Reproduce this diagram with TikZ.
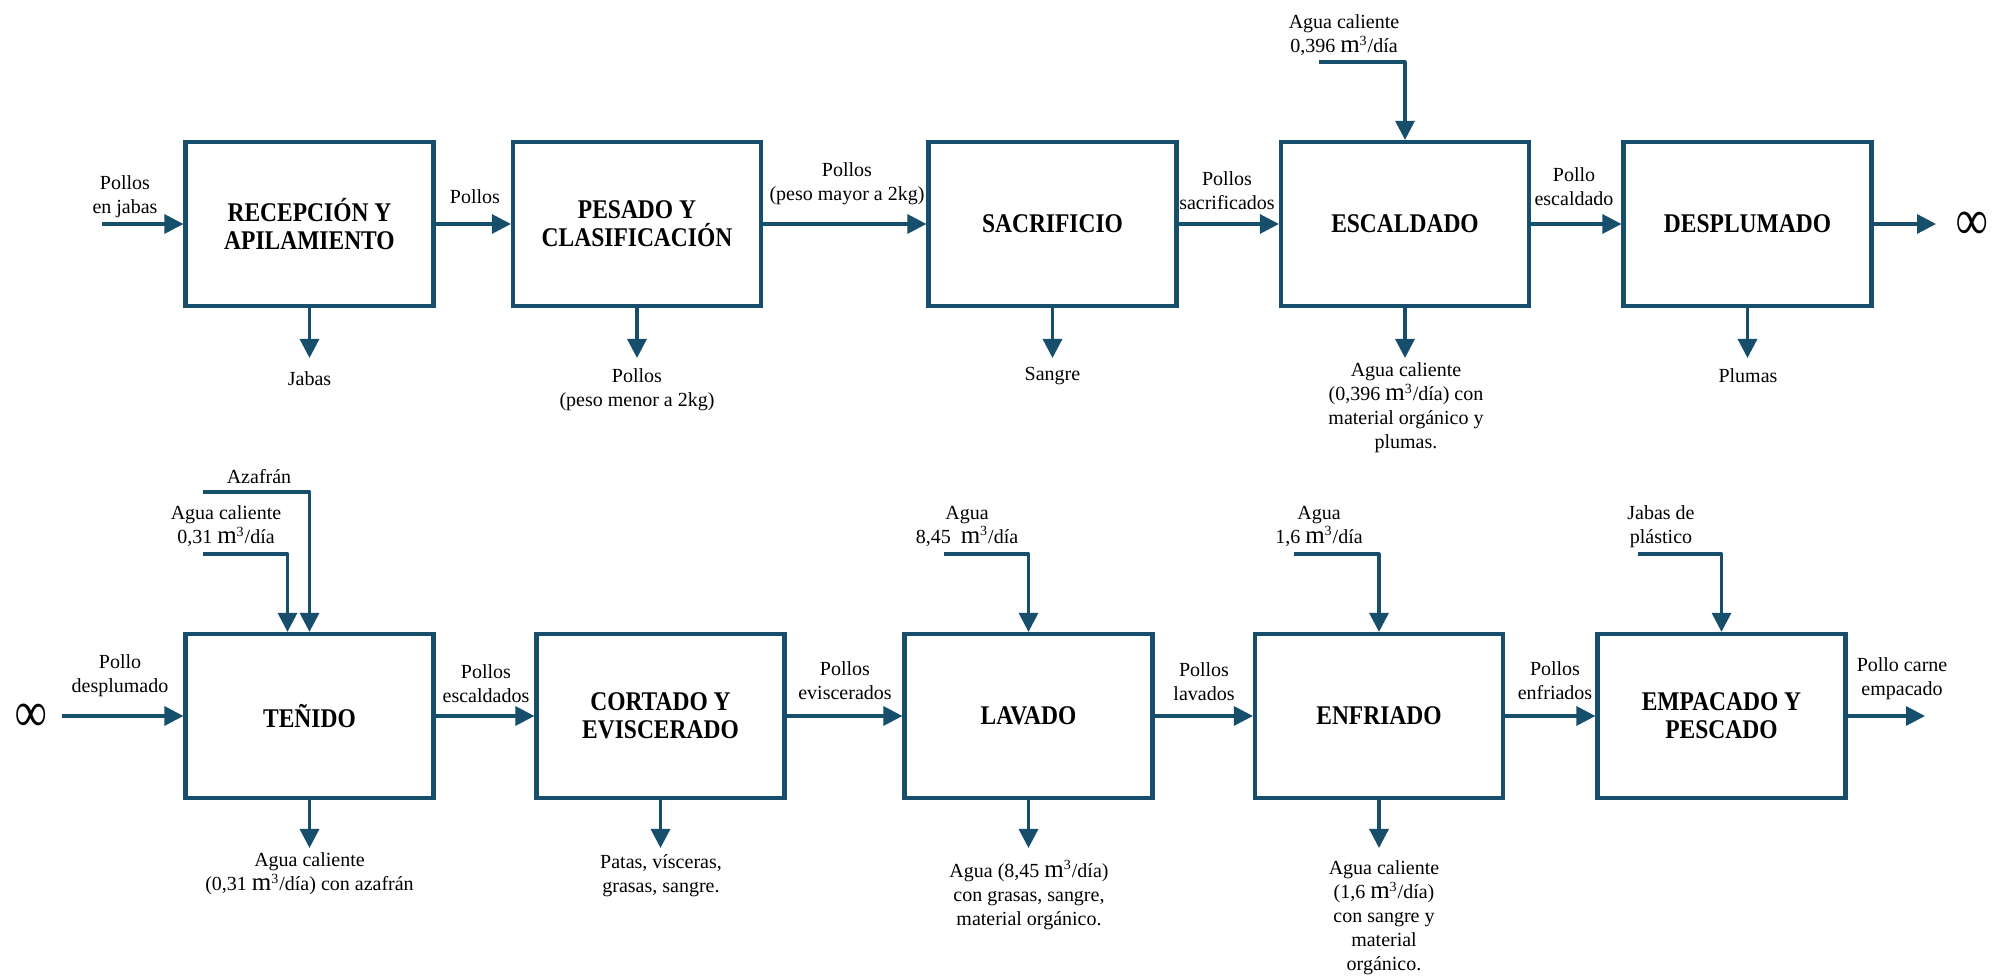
\documentclass[tikz,border=0pt]{standalone}
\usepackage{fontspec}
\setmainfont{Liberation Serif}
\newfontfamily\boxfont{Liberation Serif}[FakeStretch=0.87]
\usetikzlibrary{arrows.meta}
\definecolor{flowblue}{RGB}{22,78,107}
\newcommand{\mcub}{{\fontsize{12.5}{12}\selectfont m}\textsuperscript{3}}

\begin{document}
\begin{tikzpicture}[x=0.5pt,y=-0.5pt,
  stage/.style={draw=flowblue, line width=2.1pt, minimum width=124pt, minimum height=82pt,
    align=center, inner sep=2pt, font=\boxfont\bfseries\fontsize{13.5}{14}\selectfont},
  lbl/.style={align=center, inner sep=0pt, font=\fontsize{10}{12}\selectfont},
  flow/.style={draw=flowblue, line width=1.6pt, -{Triangle[length=9.5pt,width=9.5pt]}, line join=round},
  loop/.style={inner sep=0pt, font=\fontsize{22}{22}\selectfont, yscale=1.3},
]
\useasboundingbox (0,0) rectangle (2004,977);

% ---- first line of the process ----
\node[stage] (rec) at (309.5,224) {RECEPCIÓN Y\\APILAMIENTO};
\node[stage] (pes) at (637,224) {PESADO Y\\CLASIFICACIÓN};
\node[stage] (sac) at (1052.5,224) {SACRIFICIO};
\node[stage] (esc) at (1405,224) {ESCALDADO};
\node[stage] (des) at (1747.5,224) {DESPLUMADO};

\coordinate (inrec) at (102,224);
\draw[flow] (inrec) -- (rec.west);
\draw[flow] (rec.east) -- (pes.west);
\draw[flow] (pes.east) -- (sac.west);
\draw[flow] (sac.east) -- (esc.west);
\draw[flow] (esc.east) -- (des.west);
\coordinate (outdes) at (1936,224);
\draw[flow] (des.east) -- (outdes);
\node[loop] (linkA) at (1972,226) {\bfseries ∞};

\coordinate (inesc) at (1319,62);
\draw[flow] (inesc) -| (esc.north);

\coordinate (drec) at (309.5,358);
\coordinate (dpes) at (637,358);
\coordinate (dsac) at (1052.5,358);
\coordinate (desc) at (1405,358);
\coordinate (ddes) at (1747.5,358);
\draw[flow] (rec.south) -- (drec);
\draw[flow] (pes.south) -- (dpes);
\draw[flow] (sac.south) -- (dsac);
\draw[flow] (esc.south) -- (desc);
\draw[flow] (des.south) -- (ddes);

\node[lbl] (l1) at (125,197) {Pollos\\en jabas};
\node[lbl] (l2) at (475,197) {Pollos};
\node[lbl] (l3) at (847,184) {Pollos\\(peso mayor a 2kg)};
\node[lbl] (l4) at (1227,191) {Pollos\\sacrificados};
\node[lbl] (l5) at (1574,187) {Pollo\\escaldado};
\node[lbl] (l6) at (1344,35) {Agua caliente\\0,396 \mcub/día};
\node[lbl] (l7) at (309.5,379) {Jabas};
\node[lbl] (l8) at (637,390) {Pollos\\(peso menor a 2kg)};
\node[lbl] (l9) at (1052.5,376) {Sangre};
\node[lbl] (l10) at (1406,408) {Agua caliente\\(0,396 \mcub/día) con\\material orgánico y\\plumas.};
\node[lbl] (l11) at (1748,376) {Plumas};

% ---- second line of the process ----
\node[stage] (ten) at (309.5,716) {TEÑIDO};
\node[stage] (cor) at (660.5,716) {CORTADO Y\\EVISCERADO};
\node[stage] (lav) at (1028.5,716) {LAVADO};
\node[stage] (enf) at (1379,716) {ENFRIADO};
\node[stage] (emp) at (1721.5,716) {EMPACADO Y\\PESCADO};

\node[loop] (linkB) at (31,718) {\bfseries ∞};
\coordinate (inten) at (62,716);
\draw[flow] (inten) -- (ten.west);
\draw[flow] (ten.east) -- (cor.west);
\draw[flow] (cor.east) -- (lav.west);
\draw[flow] (lav.east) -- (enf.west);
\draw[flow] (enf.east) -- (emp.west);
\coordinate (outemp) at (1925,716);
\draw[flow] (emp.east) -- (outemp);

\coordinate (inaza) at (203,492);
\coordinate (inagt) at (203,554);
\draw[flow] (inaza) -| (ten.north);
\draw[flow] (inagt) -| ([xshift=-11pt]ten.north);
\coordinate (inlav) at (944,554);
\draw[flow] (inlav) -| (lav.north);
\coordinate (inenf) at (1294,554);
\draw[flow] (inenf) -| (enf.north);
\coordinate (inemp) at (1638,554);
\draw[flow] (inemp) -| (emp.north);

\coordinate (dten) at (309.5,848);
\coordinate (dcor) at (660.5,848);
\coordinate (dlav) at (1028.5,848);
\coordinate (denf) at (1379,848);
\draw[flow] (ten.south) -- (dten);
\draw[flow] (cor.south) -- (dcor);
\draw[flow] (lav.south) -- (dlav);
\draw[flow] (enf.south) -- (denf);

\node[lbl] (m1) at (120,676) {Pollo\\desplumado};
\node[lbl] (m2) at (486,684) {Pollos\\escaldados};
\node[lbl] (m3) at (845,681) {Pollos\\eviscerados};
\node[lbl] (m4) at (1204,682) {Pollos\\lavados};
\node[lbl] (m5) at (1555,681) {Pollos\\enfriados};
\node[lbl] (m6) at (1902,679) {Pollo carne\\empacado};
\node[lbl] (m7) at (259,477) {Azafrán};
\node[lbl] (m8) at (226,526) {Agua caliente\\0,31 \mcub/día};
\node[lbl] (m9) at (967,526) {Agua\\8,45~ \mcub/día};
\node[lbl] (m10) at (1319,526) {Agua\\1,6 \mcub/día};
\node[lbl] (m11) at (1661,527) {Jabas de\\plástico};
\node[lbl] (m12) at (309.5,874) {Agua caliente\\(0,31 \mcub/día) con azafrán};
\node[lbl] (m13) at (661,876) {Patas, vísceras,\\grasas, sangre.};
\node[lbl] (m14) at (1029,895) {Agua (8,45 \mcub/día)\\con grasas, sangre,\\material orgánico.};
\node[lbl] (m15) at (1384,918) {Agua caliente\\(1,6 \mcub/día)\\con sangre y\\material\\orgánico.};
\end{tikzpicture}
\end{document}
